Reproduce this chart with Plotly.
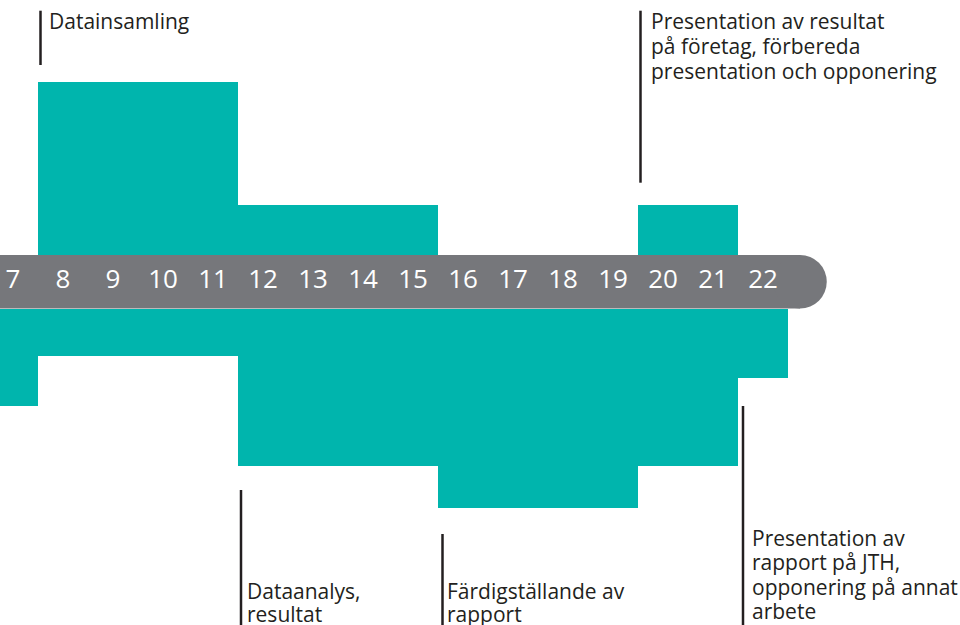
import plotly.graph_objects as go

# ---- data ----
weeks = list(range(7, 23))
week_labels = [str(w) for w in weeks]
# workload above the timeline (per week)
upper = [0, 173, 173, 173, 173, 50, 50, 50, 50, 0, 0, 0, 0, 50, 50, 0]
# workload below the timeline (per week)
lower = [97, 47, 47, 47, 47, 157, 157, 157, 157, 199, 199, 199, 199, 157, 157, 69]

labels_text = [
    ["Datainsamling"],
    ["Presentation av resultat", "på företag, förbereda", "presentation och opponering"],
    ["Dataanalys,", "resultat"],
    ["Färdigställande av", "rapport"],
    ["Presentation av", "rapport på JTH,", "opponering på annat", "arbete"],
]

# ---- styling / layout constants ----
TEAL = "#00B5AD"
GREY = "#76777B"
INK = "#231F20"
PX_PER_WEEK = 50.0
X0 = 7 - 13 / PX_PER_WEEK
X1 = 7 + (960 - 13) / PX_PER_WEEK
CENTER_PX = 281.75
HALF = 26.75
Y_TOP = CENTER_PX
Y_BOT = CENTER_PX - 625


def wx(px):
    return 7 + (px - 13) / PX_PER_WEEK


def vy(py):
    return CENTER_PX - py


fig = go.Figure()

fig.add_trace(go.Bar(x=weeks, y=upper, base=HALF, width=1,
                     marker=dict(color=TEAL, line=dict(width=0)),
                     hoverinfo="skip"))
fig.add_trace(go.Bar(x=weeks, y=[-v for v in lower], base=-HALF, width=1,
                     marker=dict(color=TEAL, line=dict(width=0)),
                     hoverinfo="skip"))
fig.add_trace(go.Scatter(x=weeks, y=[0] * len(weeks), mode="text",
                         text=week_labels, textposition="middle center",
                         textfont=dict(family="Open Sans", size=26, color="white"),
                         hoverinfo="skip"))

shapes = []
# grey timeline band with rounded right end
end_c = wx(800)
rx = HALF / PX_PER_WEEK
shapes.append(dict(type="rect", xref="x", yref="y", x0=X0 - 1, x1=end_c, y0=-HALF, y1=HALF,
                   fillcolor=GREY, line=dict(width=0), layer="below"))
shapes.append(dict(type="circle", xref="x", yref="y", x0=end_c - rx, x1=end_c + rx,
                   y0=-HALF, y1=HALF, fillcolor=GREY, line=dict(width=0), layer="below"))

# label leader lines (px positions)
line_specs = [
    (40.5, 10.7, 65),
    (640.5, 10.7, 182.7),
    (241, 490, 626),
    (442.5, 534, 626),
    (743, 406, 626),
]
for (px, py0, py1) in line_specs:
    shapes.append(dict(type="line", xref="x", yref="y", x0=wx(px), x1=wx(px),
                       y0=vy(py0), y1=vy(py1), line=dict(color=INK, width=2.5)))

text_specs = [
    (50, [21]),
    (652, [21, 46, 71]),
    (247.5, [591, 614]),
    (448, [591, 614]),
    (753, [538, 562, 587, 611]),
]
FS = 21
annotations = []
for lines, (px, centers) in zip(labels_text, text_specs):
    for txt, c in zip(lines, centers):
        annotations.append(dict(x=wx(px), y=vy(c), xref="x", yref="y", text=txt,
                                showarrow=False, xanchor="left", yanchor="middle",
                                align="left", xshift=-2, borderpad=0,
                                font=dict(family="Open Sans", size=FS, color=INK)))

fig.update_layout(
    width=960, height=625,
    margin=dict(l=0, r=0, t=0, b=0),
    paper_bgcolor="white", plot_bgcolor="white",
    showlegend=False, bargap=0, barmode="overlay",
    shapes=shapes, annotations=annotations,
    xaxis=dict(range=[X0, X1], visible=False, fixedrange=True),
    yaxis=dict(range=[Y_BOT, Y_TOP], visible=False, fixedrange=True),
)

fig.write_html("out.html", config={"displayModeBar": False},
               post_script="document.body.style.margin='0';")
